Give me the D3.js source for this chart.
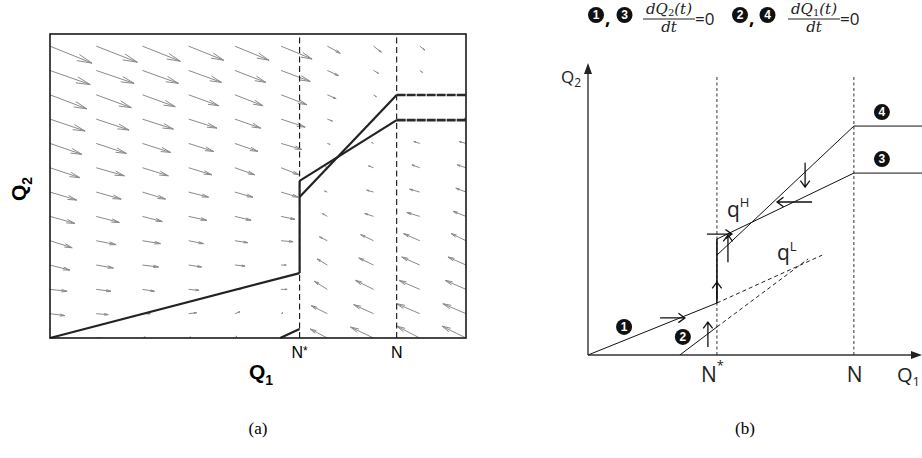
<!DOCTYPE html>
<html>
<head>
<meta charset="utf-8">
<script src="https://cdn.jsdelivr.net/npm/d3@7"></script>
<style>
  body { margin: 0; background: #fff; }
  svg { display: block; }
</style>
</head>
<body>
<div id="chart"></div>
<script>
// ---------- panel (a): phase portrait ----------
const q1Grid = [0, 1, 2, 3, 4, 5, 6, 7, 8, 9];
// rows listed from top (Q2 = 12) to bottom (Q2 = 0)
const q2Grid = [12, 11, 10, 9, 8, 7, 6, 5, 4, 3, 2, 1, 0];

// dQ1/dt component of each arrow (Q1 units)
const uRows = [
  [0.91, 0.89, 0.82, 0.76, 0.74, 0.67, 0.28, 0.17, 0.11, 0],
  [0.87, 0.82, 0.78, 0.71, 0.67, 0.63, 0.24, 0.11, 0.06, 0],
  [0.80, 0.76, 0.71, 0.65, 0.61, 0.56, 0.19, 0.06, 0.02, 0],
  [0.76, 0.71, 0.67, 0.61, 0.56, 0.52, 0.11, 0.02, 0, -0.04],
  [0.69, 0.65, 0.61, 0.54, 0.50, 0.45, 0.06, -0.04, -0.13, -0.15],
  [0.65, 0.61, 0.56, 0.50, 0.43, 0.39, -0.04, -0.11, -0.17, -0.19],
  [0.58, 0.54, 0.50, 0.43, 0.39, 0.37, -0.06, -0.15, -0.22, -0.22],
  [0.54, 0.50, 0.43, 0.39, 0.35, 0.30, -0.11, -0.19, -0.28, -0.28],
  [0.48, 0.43, 0.39, 0.32, 0.28, 0.26, -0.17, -0.28, -0.35, -0.32],
  [0.43, 0.37, 0.35, 0.28, 0.22, 0.11, -0.22, -0.32, -0.39, -0.39],
  [0.37, 0.32, 0.26, 0.22, 0.13, 0.13, -0.28, -0.39, -0.45, -0.45],
  [0.32, 0.26, 0.17, 0.17, 0.11, 0.04, -0.35, -0.43, -0.50, -0.50],
  [0.26, 0.11, 0.06, 0.04, 0.04, 0.02, -0.37, -0.50, -0.50, -0.52]
];
// dQ2/dt component of each arrow (Q2 units)
const vRows = [
  [-0.70, -0.66, -0.62, -0.58, -0.58, -0.53, -0.29, -0.25, -0.16, 0],
  [-0.58, -0.53, -0.53, -0.49, -0.49, -0.45, -0.21, -0.12, -0.08, 0],
  [-0.58, -0.53, -0.49, -0.45, -0.45, -0.41, -0.16, -0.08, -0.04, 0],
  [-0.49, -0.45, -0.41, -0.37, -0.37, -0.33, -0.08, -0.04, 0, 0.04],
  [-0.45, -0.41, -0.37, -0.33, -0.33, -0.25, -0.04, 0.04, 0.08, 0.08],
  [-0.41, -0.33, -0.33, -0.29, -0.29, -0.29, 0.04, 0.08, 0.12, 0.12],
  [-0.33, -0.29, -0.29, -0.21, -0.21, -0.21, 0.04, 0.08, 0.12, 0.16],
  [-0.29, -0.25, -0.21, -0.16, -0.16, -0.12, 0.12, 0.12, 0.16, 0.21],
  [-0.29, -0.16, -0.12, -0.12, -0.08, -0.04, 0.16, 0.25, 0.29, 0.29],
  [-0.21, -0.12, -0.08, -0.08, -0.04, 0, 0.25, 0.29, 0.33, 0.33],
  [-0.08, -0.08, -0.08, -0.04, 0, 0, 0.33, 0.37, 0.37, 0.37],
  [-0.08, -0.04, 0, 0.04, 0.08, 0.04, 0.33, 0.37, 0.41, 0.41],
  [-0.04, 0, 0.04, 0.04, 0.08, 0.04, 0.37, 0.45, 0.49, 0.49]
];

const nStarA = 5.4, nA = 7.5;
const null1A = [[0, 0], [5.4, 2.67]];
const jumpA = [[5.4, 2.67], [5.4, 6.46]];
const null2A = [[4.98, 0], [5.4, 0.37]];
const null3A = [[5.4, 6.46], [7.5, 8.96]];
const null3FlatA = [[7.5, 8.96], [9, 8.96]];
const null4A = [[5.4, 5.8], [7.5, 9.99]];
const null4FlatA = [[7.5, 9.99], [9, 9.99]];

// ---------- panel (b): schematic ----------
const nStarB = 38.6, nB = 79.6;
const line1B = [[0, 0], [38.6, 17.8]];
const line1DashB = [[38.6, 17.8], [70.1, 34.2]];
const line2B = [[27.5, 0], [38.6, 9.6]];
const line2DashB = [[38.6, 9.6], [65.9, 32.9]];
const jumpB = [[38.6, 17.8], [38.6, 39.7]];
const line3B = [[38.6, 39.7], [79.6, 62.3], [100, 62.3]];
const line4B = [[38.6, 34.2], [79.6, 78.4], [100, 78.4]];
// flow arrows: tail Q1, tail Q2, tip Q1, tip Q2
const flowB = [
  [21.6, 12.7, 29.0, 12.7],
  [35.9, 2.7, 35.9, 11.3],
  [38.6, 19.5, 38.6, 25.0],
  [35.6, 41.4, 43.1, 41.4],
  [41.9, 31.8, 41.9, 41.1],
  [67.1, 52.4, 56.6, 52.4],
  [65.0, 65.8, 65.0, 57.5]
];
const markersB = [
  { n: "1", q1: 10.8, q2: 9.6 },
  { n: "2", q1: 28.4, q2: 6.2 },
  { n: "3", q1: 88.0, q2: 67.1 },
  { n: "4", q1: 88.0, q2: 83.2 }
];

const width = 922, height = 458;
const svg = d3.select("#chart").append("svg")
  .attr("width", width)
  .attr("height", height);

// ===== panel (a) =====
const xA = d3.scaleLinear().domain([0, 9]).range([50, 466]);
const yA = d3.scaleLinear().domain([0, 12.5]).range([338, 34]);
const lineA = d3.line().x(d => xA(d[0])).y(d => yA(d[1]));

svg.append("clipPath").attr("id", "clipA")
  .append("rect")
  .attr("x", xA(0)).attr("y", yA(12.5))
  .attr("width", xA(9) - xA(0)).attr("height", yA(0) - yA(12.5));

const quiver = svg.append("g").attr("clip-path", "url(#clipA)");
const alpha = 0.33, beta = 0.22;
q2Grid.forEach((q2, i) => {
  q1Grid.forEach((q1, j) => {
    const u = uRows[i][j], v = vRows[i][j];
    if (!u && !v) return;
    const x0 = xA(q1), y0 = yA(q2), x1 = xA(q1 + u), y1 = yA(q2 + v);
    const dx = x1 - x0, dy = y1 - y0;
    const h1x = x1 - alpha * (dx + beta * dy), h1y = y1 - alpha * (dy - beta * dx);
    const h2x = x1 - alpha * (dx - beta * dy), h2y = y1 - alpha * (dy + beta * dx);
    quiver.append("path")
      .attr("d", `M${x0},${y0}L${x1},${y1}M${h1x},${h1y}L${x1},${y1}L${h2x},${h2y}`)
      .attr("fill", "none")
      .attr("stroke", "#8a8a8a")
      .attr("stroke-width", 1);
  });
});

// dashed N*, N
[nStarA, nA].forEach(n => {
  svg.append("line")
    .attr("x1", xA(n)).attr("x2", xA(n))
    .attr("y1", yA(0)).attr("y2", yA(12.5))
    .attr("stroke", "#111").attr("stroke-width", 1.1)
    .attr("stroke-dasharray", "6,3.5");
});

// nullclines
[null1A, jumpA, null2A, null3A, null4A].forEach(pts => {
  svg.append("path").attr("d", lineA(pts))
    .attr("fill", "none").attr("stroke", "#222").attr("stroke-width", 2.2);
});
[null3FlatA, null4FlatA].forEach(pts => {
  svg.append("path").attr("d", lineA(pts))
    .attr("fill", "none").attr("stroke", "#2a2a2a").attr("stroke-width", 2.6)
    .attr("stroke-dasharray", "9,1");
});

// frame
svg.append("rect")
  .attr("x", xA(0)).attr("y", yA(12.5))
  .attr("width", xA(9) - xA(0)).attr("height", yA(0) - yA(12.5))
  .attr("fill", "none").attr("stroke", "#1a1a1a").attr("stroke-width", 1.6);

// labels (a)
const sans = "'Liberation Sans', Arial, sans-serif";
const tNs = svg.append("text").attr("x", xA(nStarA)).attr("y", 358)
  .attr("text-anchor", "middle").attr("font-family", sans).attr("font-size", 16);
tNs.append("tspan").text("N");
tNs.append("tspan").attr("font-size", 12).attr("dy", -3).text("*");
svg.append("text").attr("x", xA(nA)).attr("y", 358)
  .attr("text-anchor", "middle").attr("font-family", sans).attr("font-size", 16).text("N");

const tQ1 = svg.append("text").attr("x", 249).attr("y", 379)
  .attr("font-family", sans).attr("font-size", 21).attr("font-weight", "bold");
tQ1.append("tspan").text("Q");
tQ1.append("tspan").attr("font-size", 14).attr("dy", 6).text("1");

const tQ2 = svg.append("text").attr("transform", "translate(26,201) rotate(-90)")
  .attr("font-family", sans).attr("font-size", 21).attr("font-weight", "bold");
tQ2.append("tspan").text("Q");
tQ2.append("tspan").attr("font-size", 14).attr("dy", 6).text("2");

// ===== panel (b) =====
const xB = d3.scaleLinear().domain([0, 100]).range([588, 922]);
const yB = d3.scaleLinear().domain([0, 100]).range([355, 63]);
const lineB = d3.line().x(d => xB(d[0])).y(d => yB(d[1]));

// dashed verticals
[nStarB, nB].forEach(n => {
  svg.append("line")
    .attr("x1", xB(n)).attr("x2", xB(n))
    .attr("y1", yB(0)).attr("y2", yB(95.9))
    .attr("stroke", "#333").attr("stroke-width", 1)
    .attr("stroke-dasharray", "3,2.5");
});

// axes
svg.append("line").attr("x1", xB(0)).attr("x2", xB(0)).attr("y1", yB(0)).attr("y2", yB(97))
  .attr("stroke", "#333").attr("stroke-width", 1.4);
svg.append("path")
  .attr("d", `M${xB(0)},${yB(100)}L${xB(0) - 4},${yB(100) + 11}L${xB(0) + 4},${yB(100) + 11}Z`)
  .attr("fill", "#222");
svg.append("line").attr("x1", xB(0)).attr("x2", xB(97)).attr("y1", yB(0)).attr("y2", yB(0))
  .attr("stroke", "#333").attr("stroke-width", 1.4);
svg.append("path")
  .attr("d", `M${xB(100)},${yB(0)}L${xB(100) - 11},${yB(0) - 4}L${xB(100) - 11},${yB(0) + 4}Z`)
  .attr("fill", "#222");

// lines
[line1B, line2B, line3B, line4B].forEach(pts => {
  svg.append("path").attr("d", lineB(pts))
    .attr("fill", "none").attr("stroke", "#111").attr("stroke-width", 1);
});
[line1DashB, line2DashB].forEach(pts => {
  svg.append("path").attr("d", lineB(pts))
    .attr("fill", "none").attr("stroke", "#222").attr("stroke-width", 1)
    .attr("stroke-dasharray", "4,3");
});
svg.append("path").attr("d", lineB(jumpB))
  .attr("fill", "none").attr("stroke", "#111").attr("stroke-width", 1.6);

// flow arrows
flowB.forEach(a => {
  const x0 = xB(a[0]), y0 = yB(a[1]), x1 = xB(a[2]), y1 = yB(a[3]);
  const ang = Math.atan2(y1 - y0, x1 - x0), hl = 8, ha = Math.PI / 5;
  const p1 = [x1 - hl * Math.cos(ang - ha), y1 - hl * Math.sin(ang - ha)];
  const p2 = [x1 - hl * Math.cos(ang + ha), y1 - hl * Math.sin(ang + ha)];
  svg.append("path")
    .attr("d", `M${x0},${y0}L${x1},${y1}M${p1[0]},${p1[1]}L${x1},${y1}L${p2[0]},${p2[1]}`)
    .attr("fill", "none").attr("stroke", "#111").attr("stroke-width", 1.3);
});

// circled numbers
function badge(cx, cy, n, r) {
  svg.append("circle").attr("cx", cx).attr("cy", cy).attr("r", r).attr("fill", "#111");
  svg.append("text").attr("x", cx).attr("y", cy + r * 0.52)
    .attr("text-anchor", "middle").attr("fill", "#fff")
    .attr("font-family", sans).attr("font-weight", "bold").attr("font-size", r * 1.5)
    .text(n);
}
markersB.forEach(m => badge(xB(m.q1), yB(m.q2), m.n, 8));

// axis / curve labels
const cal = "'Open Sans', 'Noto Sans', sans-serif";
const tQ2b = svg.append("text").attr("x", 561).attr("y", 83)
  .attr("font-family", cal).attr("font-size", 17).attr("fill", "#222");
tQ2b.append("tspan").text("Q");
tQ2b.append("tspan").attr("font-size", 12).attr("dy", 4).text("2");

const tQ1b = svg.append("text").attr("x", 897).attr("y", 382)
  .attr("font-family", cal).attr("font-size", 20).attr("fill", "#222");
tQ1b.append("tspan").text("Q");
tQ1b.append("tspan").attr("font-size", 13).attr("dy", 4).text("1");

const tNsb = svg.append("text").attr("x", 701).attr("y", 382)
  .attr("font-family", cal).attr("font-size", 21).attr("fill", "#222");
tNsb.append("tspan").text("N");
tNsb.append("tspan").attr("font-size", 13).attr("dy", -12).text("*");
svg.append("text").attr("x", xB(nB) - 7).attr("y", 382)
  .attr("font-family", cal).attr("font-size", 21).attr("fill", "#222").text("N");

const tqH = svg.append("text").attr("x", 727).attr("y", 217)
  .attr("font-family", cal).attr("font-size", 21).attr("fill", "#222");
tqH.append("tspan").text("q");
tqH.append("tspan").attr("font-size", 13).attr("dy", -10).text("H");

const tqL = svg.append("text").attr("x", 777).attr("y", 260)
  .attr("font-family", cal).attr("font-size", 21).attr("fill", "#222");
tqL.append("tspan").text("q");
tqL.append("tspan").attr("font-size", 13).attr("dy", -9).text("L");

// title formula
badge(596, 15, "1", 8);
svg.append("text").attr("x", 605).attr("y", 24).attr("font-family", cal).attr("font-size", 19).attr("font-weight", "bold").text(",");
badge(624.5, 15, "3", 8);
badge(740, 15, "2", 8);
svg.append("text").attr("x", 749).attr("y", 24).attr("font-family", cal).attr("font-size", 19).attr("font-weight", "bold").text(",");
badge(767.5, 15, "4", 8);

const serif = "'DejaVu Serif', 'Liberation Serif', serif";
function frac(cx, sub, x0, x1) {
  const num = svg.append("text").attr("x", cx).attr("y", 14)
    .attr("text-anchor", "middle").attr("font-family", serif).attr("font-style", "italic")
    .attr("font-size", 15).attr("fill", "#222");
  num.append("tspan").text("dQ");
  num.append("tspan").attr("font-size", 10).attr("dy", 2).attr("font-style", "normal").text(sub);
  num.append("tspan").attr("dy", -2).text("(t)");
  svg.append("line").attr("x1", x0).attr("x2", x1).attr("y1", 19).attr("y2", 19)
    .attr("stroke", "#222").attr("stroke-width", 1.1);
  svg.append("text").attr("x", cx).attr("y", 32)
    .attr("text-anchor", "middle").attr("font-family", serif).attr("font-style", "italic")
    .attr("font-size", 15).attr("fill", "#222").text("dt");
  svg.append("text").attr("x", x1).attr("y", 25)
    .attr("font-family", cal).attr("font-size", 17).attr("fill", "#222").text("=0");
}
frac(669, "2", 643, 695);
frac(814, "1", 788, 840);

// captions
const times = "'Liberation Serif', 'Times New Roman', serif";
svg.append("text").attr("x", 258).attr("y", 434).attr("text-anchor", "middle")
  .attr("font-family", times).attr("font-size", 17).text("(a)");
svg.append("text").attr("x", 745).attr("y", 434).attr("text-anchor", "middle")
  .attr("font-family", times).attr("font-size", 17).text("(b)");
</script>
</body>
</html>
